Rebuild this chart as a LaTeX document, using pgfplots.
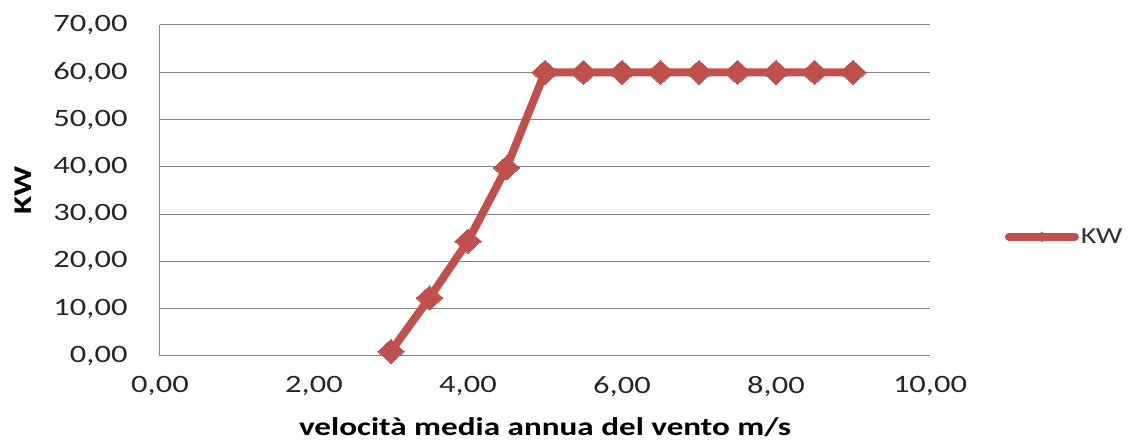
\documentclass[border=0pt]{standalone}
\usepackage{pgfplots}
\pgfplotsset{compat=1.18}
\usetikzlibrary{shapes.geometric}
\usepackage{fontspec}
\setmainfont{Carlito}[FakeStretch=1.3]
\definecolor{exred}{RGB}{192,80,77}
\definecolor{gridgray}{RGB}{134,134,134}
\begin{document}
\begin{tikzpicture}
\begin{axis}[
  at={(0,0)}, anchor=south west,
  scale only axis,
  width=770pt, height=331pt,
  xmin=0, xmax=10, ymin=0, ymax=70,
  xtick={0,2,4,6,8,10},
  ytick={0,10,20,30,40,50,60,70},
  xticklabels={{0,00},{2,00},{4,00},{6,00},{8,00},{10,00}},
  yticklabels={{0,00},{10,00},{20,00},{30,00},{40,00},{50,00},{60,00},{70,00}},
  ymajorgrids,
  grid style={gridgray, line width=1pt},
  axis x line*=bottom, axis y line*=left,
  axis line style={gridgray, line width=1pt, -},
  major tick length=0pt,
  tick label style={font=\fontsize{25}{28}\selectfont, text=black!85},
  xticklabel style={yshift=-17pt},
  yticklabel style={xshift=-29pt},
  xlabel={\bfseries velocità media annua del vento m/s},
  ylabel={\bfseries KW},
  label style={font=\fontsize{25.5}{28}\selectfont},
  xlabel style={yshift=-14pt},
  ylabel style={at={(axis description cs:-0.177,0.5)}, anchor=center, rotate=0},
  legend style={at={(1.097,0.36)}, anchor=west, draw=none, fill=none,
    font=\fontsize{23}{26}\selectfont, text=black!80, inner sep=0pt},
  legend image code/.code={
    \draw[exred, line width=8pt, line cap=round] (0pt,0pt) -- (66pt,0pt);
    \node[diamond, fill=exred, inner sep=0pt, minimum width=14pt, minimum height=14pt] at (33pt,0pt) {};
  },
]
\addplot[exred, line width=8pt, line join=round, mark=diamond*, mark size=12pt, mark options={fill=exred, line width=0pt, xscale=1.45}]
coordinates {
(3,1.0) (3.5,12.3) (4,24.3) (4.5,39.8) (5,60) (5.5,60) (6,60) (6.5,60) (7,60) (7.5,60) (8,60) (8.5,60) (9,60)
};
\addlegendentry{KW}
\end{axis}
\pgfresetboundingbox
\path (-160pt,-85pt) rectangle (970pt,356pt);
\end{tikzpicture}
\end{document}
